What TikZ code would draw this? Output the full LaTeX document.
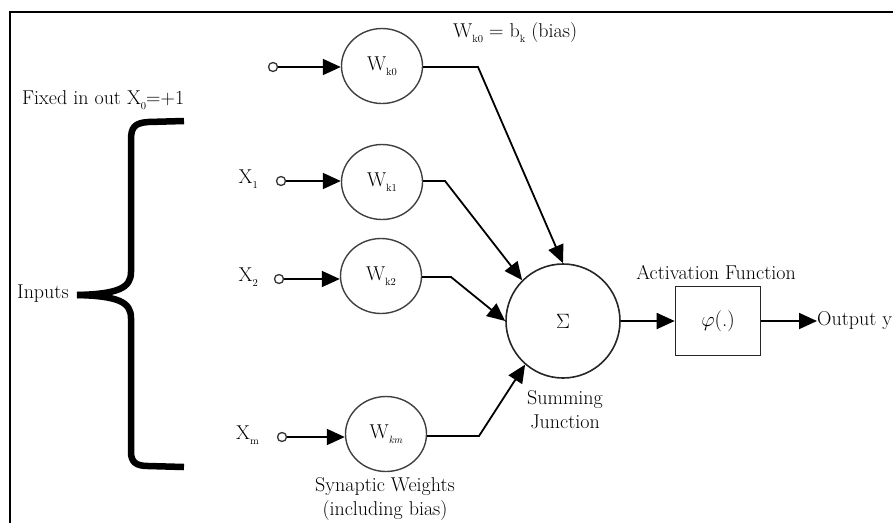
\documentclass[tikz,border=0pt]{standalone}
\usepackage{fontspec}
\usetikzlibrary{arrows.meta,shapes.geometric}
\newcommand{\lowsub}[1]{\raisebox{-5pt}{\fontsize{10.5}{10.5}\selectfont #1}}
\begin{document}
\begin{tikzpicture}[x=1pt,y=-1pt,
  every node/.style={font=\fontsize{20}{24}\selectfont, text=black},
  terminal/.style={circle,draw=black!80,line width=1.3pt,inner sep=0pt,minimum size=9pt,fill=white},
  weight/.style={ellipse,draw=black!75,line width=1.4pt,inner sep=0pt,minimum width=81pt,minimum height=75pt},
  link/.style={line width=1.8pt,-{Triangle[length=18pt,width=16pt]}},
  frame/.style={line width=2pt},
  bracepath/.style={line width=6.5pt,line cap=butt}]
\useasboundingbox (0,0) rectangle (893,523);

% outer frame (top and left edges)
\draw[frame] (893,12) -- (10,12) -- (10,523);

% input terminals
\node[terminal] (i0) at (273,67) {};
\node[terminal] (i1) at (281,181) {};
\node[terminal] (i2) at (279,279) {};
\node[terminal] (im) at (282,437) {};

% synaptic weights
\node[weight] (w0) at (382,66) {W\lowsub{k0}};
\node[weight] (w1) at (382,182) {W\lowsub{k1}};
\node[weight] (w2) at (381,276) {W\lowsub{k2}};
\node[weight] (wm) at (386,434) {W\lowsub{\itshape km}};

% summing junction and activation
\node[circle,draw=black!85,line width=1.6pt,minimum size=114pt,inner sep=0pt] (sum) at (563,321) {\fontsize{21}{21}\selectfont$\Sigma$};
\node[draw=black!85,line width=1.6pt,minimum width=85pt,minimum height=69pt,inner sep=0pt] (act) at (718,321) {\fontsize{21}{21}\selectfont$\varphi$(.)};
\node[anchor=west,inner sep=0pt] (out) at (817,321) {Output y};

% input arrows (horizontal into each weight)
\draw[link] (i0) -- (i0 -| w0.west);
\draw[link] (i1) -- (i1 -| w1.west);
\draw[link] (i2) -- (i2 -| w2.west);
\draw[link] (im) -- (im -| wm.west);

% weighted signals into the summing junction
\coordinate (b0) at (478,67);
\coordinate (b1) at (445,181);
\coordinate (b2) at (451,277);
\coordinate (bm) at (479,436);
\draw[link] (w0.east |- b0) -- (b0) -- (sum.north);
\draw[link] (w1.east |- b1) -- (b1) -- (sum.135);
\draw[link] (w2.east |- b2) -- (b2) -- (sum.west);
\draw[link] (wm.east |- bm) -- (bm) -- (sum.229);

% output path
\draw[link] (sum.east) -- (act.west);
\draw[link] (act.east) -- (out.west);

% input brace
\draw[bracepath] (184,121) -- (148,122)
  .. controls (134,123) and (131,128) .. (131,140) -- (131,272)
  .. controls (131,288) and (118,294) .. (77,295);
\draw[bracepath] (77,295)
  .. controls (118,296) and (131,302) .. (131,318) -- (131,452)
  .. controls (131,462) and (136,466) .. (148,466) -- (184,467);

% labels
\node[anchor=west,inner sep=0pt] (fixed) at (22,100) {Fixed in out X\lowsub{0}=+1};
\node[anchor=west,inner sep=0pt] (inputs) at (17,294) {Inputs};
\node[anchor=east,inner sep=0pt] (x1) at (258,179) {X\lowsub{1}};
\node[anchor=east,inner sep=0pt] (x2) at (258,277) {X\lowsub{2}};
\node[anchor=east,inner sep=0pt] (xm) at (259,435) {X\lowsub{m}};
\node[anchor=west,inner sep=0pt] (bias) at (453,33) {W\lowsub{k0} = b\lowsub{k} (bias)};
\node[align=center,inner sep=0pt] (syn) at (385,499) {Synaptic Weights\\(including bias)};
\node[align=center,inner sep=0pt] (sj) at (565,410) {Summing\\Junction};
\node[inner sep=0pt] (af) at (716,273) {Activation Function};
\end{tikzpicture}
\end{document}
